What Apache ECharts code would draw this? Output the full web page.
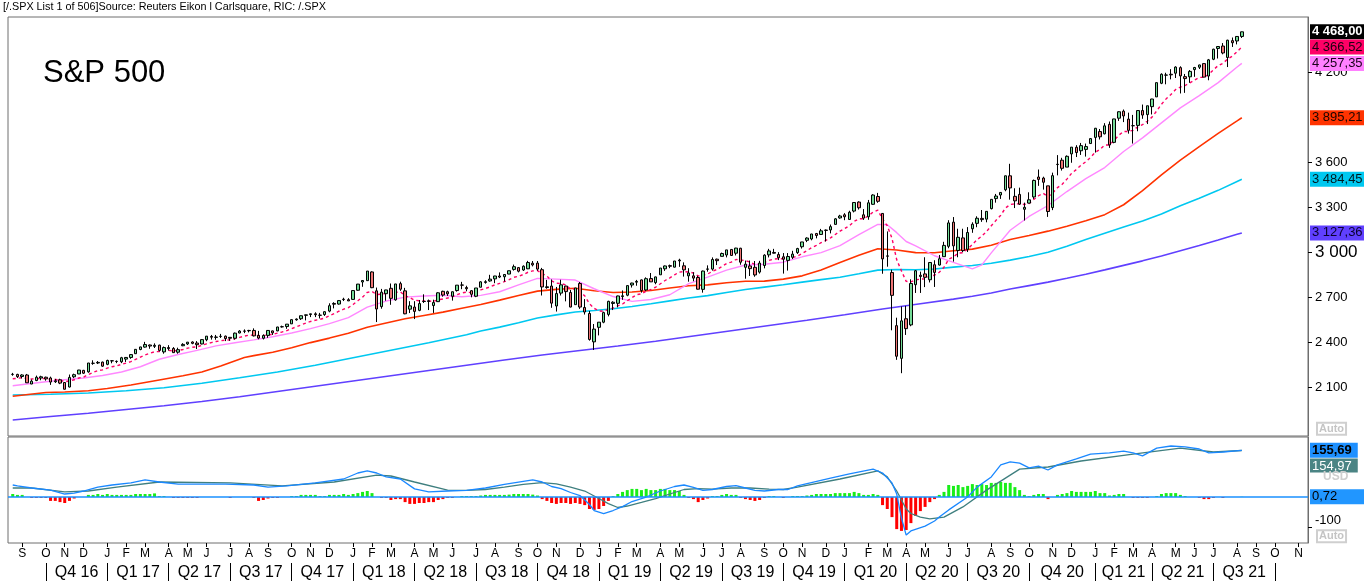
<!DOCTYPE html>
<html><head><meta charset="utf-8">
<script src="https://cdn.jsdelivr.net/npm/echarts@6/dist/echarts.min.js"></script>
<style>html,body{margin:0;padding:0;background:#fff;overflow:hidden}#c{width:1364px;height:581px}</style>
</head><body><div id="c"></div>
<script>
// ---------- DATA (weekly S&P 500, weeks ending 19 Aug 2016 .. 13 Aug 2021) ----------
const firstWeekEnd = '2016-08-19';
const opens = [
2184,2184,2170,2180,2120,2143,2160,2165,2160,2135, 2148,2130,2100,2168,2187,2211,2201,2258,2260,2266,
2251,2274,2270,2268,2286,2297,2322,2350,2366,2380, 2371,2379,2334,2363,2357,2332,2375,2387,2400,2393,
2387,2415,2437,2431,2437,2439,2431,2425,2460,2473, 2475,2477,2444,2425,2444,2474,2474,2501,2503,2521,
2548,2555,2578,2583,2588,2578,2583,2606,2657,2653, 2685,2682,2684,2745,2800,2809,2867,2741,2636,2722,
2758,2681,2789,2741,2619,2633,2611,2670,2675,2643, 2669,2738,2735,2705,2743,2780,2763,2742,2705,2765,
2797,2807,2821,2840,2835,2853,2884,2896,2880,2888, 2925,2926,2882,2763,2773,2640,2726,2773,2730,2649,
2790,2630,2590,2401,2498,2532,2584,2657,2658,2703, 2712,2780,2799,2814,2747,2823,2796,2848,2888,2909,
2899,2941,2908,2841,2841,2830,2751,2885,2886,2952, 2971,2980,3017,2992,3025,2898,2907,2898,2866,2910,
2981,2997,2983,2968,2944,2965,2996,3035,3078,3087, 3123,3117,3144,3147,3184,3227,3248,3217,3273,3333,
3248,3235,3318,3370,3257,2974,2863,2509,2291,2555, 2514,2782,2845,2854,2815,2915,2913,2969,3038,3199,
3010,3094,3018,3155,3191,3224,3219,3289,3356,3380, 3415,3508,3371,3384,3285,3326,3367,3500,3493,3441,
3296,3583,3612,3566,3654,3698,3675,3684,3723,3764, 3803,3788,3851,3731,3892,3939,3886,3842,3844,3943,
3916,3969,4034,4125,4179,4185,4192,4229,4169,4168, 4216,4232,4256,4173,4285,4357,4373,4297,4409,4407,
4437];
const highs = [
2194,2188,2185,2187,2150,2176,2175,2169,2169,2154, 2155,2131,2183,2189,2214,2214,2260,2278,2273,2269,
2282,2279,2277,2301,2300,2319,2352,2368,2401,2383, 2391,2382,2370,2379,2366,2362,2392,2400,2404,2406,
2419,2440,2447,2447,2454,2443,2433,2463,2479,2484, 2481,2491,2474,2451,2480,2476,2501,2509,2520,2552,
2557,2576,2582,2589,2598,2594,2605,2658,2665,2680, 2695,2692,2743,2787,2811,2873,2871,2763,2754,2748,
2790,2787,2802,2761,2672,2672,2680,2718,2683,2682, 2732,2742,2742,2736,2779,2801,2775,2746,2760,2805,
2812,2848,2841,2864,2850,2876,2916,2900,2911,2941, 2940,2940,2894,2814,2817,2767,2815,2775,2747,2760,
2800,2686,2607,2520,2532,2602,2675,2672,2709,2744, 2776,2795,2814,2817,2831,2860,2836,2893,2910,2916,
2940,2955,2931,2892,2865,2841,2876,2911,2964,2956, 2996,3014,3018,3028,3028,2943,2943,2940,2941,2985,
3021,3021,2999,2993,2993,3008,3028,3067,3098,3121, 3127,3154,3150,3183,3226,3248,3259,3275,3330,3338,
3286,3347,3385,3394,3260,3137,2882,2562,2637,2641, 2818,2880,2869,2965,2933,2945,2980,3068,3212,3233,
3155,3155,3166,3198,3238,3280,3272,3352,3387,3400, 3509,3588,3425,3429,3329,3398,3483,3550,3502,3441,
3529,3646,3628,3644,3700,3712,3727,3723,3760,3827, 3820,3859,3870,3888,3938,3950,3929,3914,3944,3983,
3975,4021,4129,4191,4195,4219,4238,4238,4187,4213, 4234,4249,4257,4287,4355,4372,4393,4415,4430,4440,
4469];
const lows = [
2175,2160,2157,2127,2119,2139,2145,2142,2114,2127, 2119,2084,2097,2159,2186,2187,2195,2248,2253,2234,
2245,2258,2259,2259,2267,2288,2320,2345,2362,2355, 2360,2337,2322,2343,2328,2322,2372,2380,2385,2353,
2384,2405,2416,2415,2427,2406,2408,2416,2458,2459, 2464,2437,2418,2417,2428,2447,2472,2496,2488,2520,
2542,2547,2544,2566,2566,2557,2574,2598,2624,2649, 2673,2673,2682,2742,2768,2808,2759,2533,2622,2675,
2648,2675,2741,2585,2593,2553,2605,2660,2613,2594, 2667,2702,2707,2676,2736,2752,2738,2698,2699,2765,
2789,2802,2792,2826,2803,2852,2876,2864,2874,2886, 2904,2875,2710,2755,2628,2603,2710,2671,2631,2649,
2621,2583,2409,2347,2444,2525,2571,2613,2631,2681, 2705,2763,2775,2729,2741,2800,2785,2848,2874,2892,
2897,2901,2836,2802,2805,2750,2729,2869,2876,2913, 2970,2964,2975,2977,2915,2822,2840,2835,2856,2891,
2964,2990,2946,2856,2876,2953,2987,3023,3066,3078, 3091,3114,3070,3124,3184,3222,3212,3215,3264,3283,
3214,3215,3315,3328,2855,2902,2478,2281,2192,2447, 2505,2727,2727,2766,2797,2767,2910,2969,3025,2936,
2965,2999,3000,3128,3165,3201,3198,3284,3329,3354, 3405,3349,3293,3314,3210,3324,3354,3441,3416,3234,
3279,3511,3543,3566,3595,3633,3647,3636,3723,3663, 3750,3784,3694,3725,3874,3866,3789,3723,3805,3888,
3853,3917,4034,4119,4118,4151,4160,4057,4061,4128, 4168,4220,4165,4145,4279,4290,4318,4233,4367,4384,
4427];
const closes = [
2184,2169,2180,2128,2139,2165,2168,2154,2133,2141, 2126,2085,2164,2182,2213,2192,2260,2258,2264,2239,
2277,2275,2271,2295,2297,2316,2351,2367,2383,2373, 2378,2344,2363,2356,2329,2349,2384,2399,2391,2382,
2416,2439,2432,2433,2438,2423,2425,2459,2473,2472, 2477,2441,2426,2443,2477,2461,2500,2502,2519,2549,
2553,2575,2581,2588,2582,2579,2602,2642,2652,2676, 2683,2674,2743,2786,2810,2873,2762,2620,2732,2747,
2691,2787,2752,2588,2641,2604,2656,2670,2670,2663, 2728,2713,2721,2735,2779,2779,2755,2718,2760,2801,
2802,2819,2840,2833,2850,2875,2902,2872,2905,2930, 2914,2886,2767,2768,2659,2723,2781,2736,2633,2760,
2633,2600,2417,2486,2532,2596,2671,2665,2707,2708, 2776,2793,2804,2743,2822,2801,2834,2893,2907,2905,
2940,2946,2881,2860,2826,2752,2873,2887,2950,2942, 2990,3014,2977,3026,2932,2919,2889,2847,2926,2979,
3007,2992,2962,2952,2970,2986,3023,3067,3093,3120, 3110,3141,3146,3169,3221,3240,3235,3265,3330,3295,
3226,3328,3380,3338,2954,2972,2711,2305,2541,2489, 2790,2875,2837,2831,2930,2864,2955,3044,3194,3041,
3098,3009,3130,3185,3225,3216,3271,3351,3373,3397, 3508,3427,3341,3319,3298,3348,3477,3484,3465,3270,
3509,3585,3558,3638,3699,3663,3709,3703,3756,3825, 3768,3841,3714,3887,3935,3907,3811,3842,3943,3913,
3975,4020,4129,4185,4180,4181,4233,4174,4156,4204, 4230,4247,4166,4281,4352,4370,4327,4412,4395,4437,
4468.00];
// dashed short average (one value per week)
const maFast = [
2155,2158,2162,2156,2153,2155,2157,2156,2152,2150, 2146,2135,2140,2148,2160,2166,2183,2197,2209,2214,
2226,2235,2241,2251,2259,2269,2284,2299,2314,2325, 2335,2337,2342,2344,2341,2343,2350,2359,2365,2368,
2377,2388,2396,2403,2409,2412,2414,2422,2431,2439, 2446,2445,2442,2442,2448,2450,2459,2467,2476,2489,
2501,2514,2526,2537,2545,2551,2560,2575,2589,2605, 2619,2629,2650,2675,2699,2731,2737,2716,2719,2724,
2718,2731,2735,2708,2696,2679,2675,2674,2673,2671, 2681,2687,2693,2701,2715,2727,2732,2729,2735,2747,
2757,2768,2781,2791,2802,2815,2831,2838,2850,2865, 2874,2876,2856,2840,2807,2792,2790,2780,2753,2754,
2732,2708,2655,2624,2607,2605,2617,2626,2641,2653, 2675,2696,2716,2721,2739,2750,2765,2788,2810,2827,
2848,2866,2869,2867,2860,2840,2846,2853,2871,2884, 2903,2923,2933,2950,2947,2942,2932,2917,2919,2930,
2944,2953,2955,2954,2957,2962,2973,2990,3009,3029, 3044,3062,3077,3094,3117,3139,3156,3176,3204,3221,
3222,3241,3266,3279,3220,3175,3091,2948,2874,2804, 2801,2815,2819,2821,2841,2845,2865,2898,2952,2968,
2992,2995,3020,3050,3082,3106,3136,3175,3211,3245, 3293,3317,3321,3321,3317,3323,3351,3375,3391,3369,
3394,3429,3452,3486,3525,3550,3579,3602,3630,3665, 3684,3713,3713,3745,3780,3803,3804,3811,3835,3849,
3872,3899,3941,3985,4021,4050,4083,4100,4110,4127, 4146,4164,4164,4185,4215,4243,4258,4286,4306,4335,
4366.52];
// [week index, value]
const ma20 = [[0,2108],[3,2120],[7,2135],[11,2148],[15,2160],[19,2177],[23,2200],[27,2235],[31,2285],[35,2317],[39,2344],[43,2374],[47,2395],[51,2414],[55,2435],[59,2460],[63,2489],[67,2522],[71,2563],[75,2633],[79,2673],[83,2699],[87,2707],[91,2712],[95,2702],[99,2711],[103,2735],[107,2781],[111,2824],[115,2819],[119,2813],[123,2755],[127,2703],[131,2671],[135,2683],[139,2715],[143,2789],[147,2833],[151,2879],[155,2913],[159,2918],[163,2932],[167,2968],[171,2996],[175,3042],[179,3116],[183,3184],[185,3182],[187,3129],[189,3070],[191,3041],[195,2975],[199,2931],[201,2909],[203,2888],[205,2914],[207,2994],[211,3145],[215,3237],[219,3310],[223,3403],[227,3489],[231,3563],[235,3670],[239,3761],[243,3861],[247,3961],[251,4043],[255,4129],[259,4233],[260,4257.35]];
const ma50 = [[0,2038],[7,2063],[11,2067],[16,2075],[20,2090],[25,2113],[31,2147],[36,2175],[40,2200],[44,2240],[49,2297],[51,2309],[55,2332],[59,2362],[63,2396],[67,2426],[71,2458],[75,2498],[79,2527],[83,2555],[87,2577],[91,2599],[95,2625],[99,2650],[103,2679],[107,2710],[111,2739],[115,2751],[119,2758],[123,2742],[127,2730],[131,2733],[135,2743],[139,2760],[143,2775],[147,2781],[151,2795],[155,2805],[159,2806],[163,2819],[167,2841],[171,2880],[175,2930],[179,2978],[183,3022],[187,3013],[191,2996],[195,2995],[199,3008],[203,3019],[207,3045],[211,3083],[215,3110],[219,3139],[223,3172],[227,3209],[231,3249],[235,3315],[239,3409],[243,3514],[247,3612],[251,3702],[255,3791],[259,3874],[260,3895.21]];
const ma100 = [[0,2047],[8,2052],[16,2060],[24,2075],[32,2095],[40,2125],[48,2162],[56,2200],[64,2245],[72,2295],[80,2345],[88,2395],[96,2448],[99,2473],[103,2499],[107,2528],[111,2560],[115,2581],[119,2600],[123,2610],[127,2622],[131,2637],[135,2655],[139,2674],[143,2693],[147,2709],[151,2730],[155,2750],[159,2766],[163,2782],[167,2799],[171,2816],[175,2832],[179,2855],[183,2879],[187,2883],[191,2882],[195,2887],[199,2899],[203,2910],[207,2925],[211,2946],[215,2970],[219,2998],[223,3039],[227,3083],[231,3125],[235,3167],[239,3207],[243,3254],[247,3308],[251,3358],[255,3411],[259,3470],[260,3484.45]];
const ma200 = [[0,1880],[8,1903],[16,1925],[24,1950],[32,1975],[40,2003],[48,2035],[56,2070],[64,2105],[72,2140],[80,2175],[88,2210],[96,2245],[104,2280],[112,2313],[120,2343],[128,2373],[136,2405],[144,2440],[152,2475],[160,2510],[168,2545],[176,2582],[184,2620],[192,2655],[199,2686],[203,2705],[207,2727],[211,2753],[215,2776],[219,2799],[223,2825],[227,2852],[231,2881],[235,2911],[239,2941],[243,2974],[247,3009],[251,3044],[255,3080],[259,3118],[260,3127.36]];
const macdLine = [[0,40],[1,37],[4,30],[8,23],[11,10],[13,13],[15,20],[18,33],[21,40],[25,47],[28,57],[31,50],[35,43],[40,43],[45,43],[51,40],[54,33],[58,37],[64,47],[70,60],[73,80],[75,87],[77,80],[79,67],[82,60],[85,27],[88,17],[92,20],[96,22],[100,30],[104,42],[108,52],[110,57],[112,50],[114,35],[116,28],[118,15],[120,5],[122,-25],[123,-45],[125,-55],[127,-45],[129,-32],[131,-15],[134,0],[137,20],[140,35],[142,40],[144,32],[146,22],[148,25],[151,35],[153,38],[155,30],[157,22],[159,20],[162,25],[164,25],[166,37],[173,63],[177,77],[182,93],[184,80],[186,47],[187,10],[188,-70],[189,-127],[190,-113],[193,-97],[195,-80],[196,-67],[198,-43],[202,0],[204,33],[207,67],[209,107],[211,117],[213,113],[215,97],[217,103],[219,90],[221,107],[225,127],[228,143],[232,147],[235,153],[237,147],[239,137],[242,163],[245,170],[248,167],[251,160],[253,147],[256,150],[260,155.69]];
const macdSignal = [[0,30],[4,30],[11,17],[16,20],[22,33],[31,50],[46,47],[57,37],[68,50],[77,73],[80,70],[85,50],[92,23],[96,22],[100,25],[104,33],[108,42],[112,48],[115,44],[118,33],[121,20],[124,-5],[126,-22],[128,-35],[130,-30],[133,-18],[136,-5],[139,10],[142,25],[145,28],[148,26],[152,30],[156,30],[160,26],[163,25],[166,33],[175,60],[183,87],[185,67],[187,20],[189,-40],[190,-55],[192,-67],[194,-73],[197,-67],[201,-33],[206,23],[210,63],[213,93],[219,100],[226,120],[237,143],[247,163],[254,150],[260,154.97]];
const macdHist = [
10,7,7,0,-3,-3,-3,-3,-13,-13, -17,-20,-13,-5,0,0,7,7,10,7,
10,7,7,7,7,7,10,10,10,10, 12,3,3,0,-3,-3,-3,-3,-3,-3,
0,0,0,0,0,0,-3,0,0,0, 0,-3,-13,-10,-5,-3,-3,0,0,3,
3,7,7,7,7,3,3,7,7,7, 10,7,10,13,17,20,13,0,-3,-3,
-10,-7,-7,-17,-23,-23,-20,-20,-17,-17, -10,-7,-3,-3,0,3,3,3,3,5,
7,7,7,7,7,8,10,10,10,10, 8,5,-7,-13,-20,-23,-20,-20,-23,-20,
-23,-27,-40,-43,-40,-30,-13,3,10,17, 23,27,27,23,27,23,23,27,27,23,
23,20,7,-3,-7,-17,-10,-5,3,3, 7,10,7,7,-3,-7,-10,-13,-10,-3,
3,3,0,-3,0,3,3,3,5,7, 10,10,10,10,13,13,13,13,17,13,
7,7,10,7,-27,-40,-67,-107,-113,-110, -87,-63,-47,-33,-17,-7,7,17,40,37,
40,33,37,43,40,43,40,47,47,50, 47,47,33,23,7,3,7,10,10,-7,
0,7,10,13,20,17,17,17,17,20, 13,13,5,7,10,10,0,-3,-3,-3,
-3,0,3,10,13,13,13,7,3,0, 0,-3,-7,-7,-3,0,-3,0,0,0,
0.72];
const priceTicks = [2100, 2400, 2700, 3000, 3300, 3600, 4200];
const macdTicks = [-100];
const monthLetters = ['J','F','M','A','M','J','J','A','S','O','N','D'];

// ---------- LAYOUT HELPERS ----------
const DAY = 864e5;
const week0 = Date.parse(firstWeekEnd + 'T00:00:00Z');
const X_MIN = -1, X_MAX = 274, LAST_SLOT = 273;
function weekMonth(i) {
  let t = week0 + i * 7 * DAY;
  const d = new Date(t);
  if (d.getUTCMonth() === 0 && d.getUTCDate() === 1) t -= DAY; // New Year holiday
  const e = new Date(t);
  return [e.getUTCFullYear(), e.getUTCMonth()];
}
const monthTicks = [], monthText = {};
for (let i = 1; i <= LAST_SLOT; i++) {
  const m = weekMonth(i)[1], pm = weekMonth(i - 1)[1];
  if (m !== pm) { monthTicks.push(i); monthText[i] = monthLetters[m]; }
}
const quarterTicks = monthTicks.filter(i => weekMonth(i)[1] % 3 === 0);
const quarterMid = [], quarterText = {};
for (let k = 0; k < quarterTicks.length - 1; k++) {
  const a = quarterTicks[k], b = quarterTicks[k + 1], mid = (a + b) / 2;
  const [y, m] = weekMonth(a);
  quarterMid.push(mid);
  quarterText[mid] = 'Q' + (m / 3 + 1) + ' ' + String(y).slice(2);
}
function fmt(v, dec) {
  const p = v.toFixed(dec).split('.');
  const intPart = p[0].replace(/\B(?=(\d{3})+(?!\d))/g, ' ');
  return dec ? intPart + ',' + p[1] : intPart;
}
const last = a => { const v = a[a.length - 1]; return Array.isArray(v) ? v[1] : v; };

const P_MIN = 1773.3, P_MAX = 4566.7;   // price pane range
const M_MIN = -153.3, M_MAX = 200;      // MACD pane range
const FONT = 'Liberation Sans';

function tagAxis(grid, min, max, value, text, bg, color, bold, extra) {
  return {
    type: 'value', gridIndex: grid, position: 'right', min, max, z: 10,
    axisLine: { show: false, onZero: false }, axisTick: { show: false }, splitLine: { show: false },
    axisLabel: Object.assign({
      customValues: [value], formatter: () => text, margin: 2, fontSize: 13, fontFamily: FONT,
      color, fontWeight: bold ? 'bold' : 'normal', backgroundColor: bg, padding: [1, 6, 0, 2], lineHeight: 14
    }, extra || {})
  };
}

const yAxes = [];
yAxes.push({
  type: 'value', gridIndex: 0, position: 'right', min: P_MIN, max: P_MAX, z: 2,
  axisLine: { show: true, onZero: false, lineStyle: { color: '#6e6e6e' } }, splitLine: { show: false },
  axisTick: { show: true, customValues: priceTicks, length: 4, lineStyle: { color: '#000' } },
  axisLabel: { customValues: priceTicks, margin: 7, fontSize: 13, fontFamily: FONT, color: '#000',
    formatter: v => v === 3000 ? '{big|' + fmt(v, 0) + '}' : fmt(v, 0),
    rich: { big: { fontSize: 17, fontFamily: FONT, color: '#000' } } }
});
const priceTags = [
  [last(closes), '#000000', '#ffffff', true],
  [last(maFast), '#ff0066', '#1a0010', false],
  [last(ma20), '#ff80ff', '#1a001a', false],
  [last(ma50), '#ff3300', '#1a0500', false],
  [last(ma100), '#00c8f0', '#001a20', false],
  [last(ma200), '#6040ff', '#0a0030', false]
];
priceTags.forEach(t => yAxes.push(tagAxis(0, P_MIN, P_MAX, t[0], fmt(t[0], 2), t[1], t[2], t[3])));
yAxes.push(tagAxis(0, P_MIN, P_MAX, 1822, 'Auto', 'transparent', '#c4c4c4', true,
  { margin: 9, fontSize: 11, borderColor: '#cfcfcf', borderWidth: 1, padding: [0, 2, 0, 2], lineHeight: 12 }));
const macdAxisIndex = yAxes.length;
yAxes.push({
  type: 'value', gridIndex: 1, position: 'right', min: M_MIN, max: M_MAX, z: 2,
  axisLine: { show: true, onZero: false, lineStyle: { color: '#6e6e6e' } }, splitLine: { show: false },
  axisTick: { show: true, customValues: macdTicks, length: 4, lineStyle: { color: '#000' } },
  axisLabel: { customValues: macdTicks, margin: 7, fontSize: 13, fontFamily: FONT, color: '#000', verticalAlign: 'bottom',
    formatter: v => String(v) }
});
const lastMacd = last(macdLine), lastSig = last(macdSignal), lastHist = last(macdHist);
yAxes.push(tagAxis(1, M_MIN, M_MAX, lastMacd, fmt(lastMacd, 2), '#1e90ff', '#000', true));
yAxes.push(tagAxis(1, M_MIN, M_MAX, lastSig, '', 'transparent', '#fff', false, {
  formatter: () => '{g|}\n{t|' + fmt(lastSig, 2) + '}', verticalAlign: 'top', backgroundColor: 'transparent', padding: 0,
  rich: { g: { height: 8, lineHeight: 8 }, t: { backgroundColor: '#4b8484', color: '#ffffff', padding: [1, 6, 0, 2], fontSize: 13, lineHeight: 14, fontFamily: FONT } }
}));
yAxes.push(tagAxis(1, M_MIN, M_MAX, lastHist, fmt(lastHist, 2), '#2196ff', '#000', false, { padding: [1, 30, 0, 2] }));
yAxes.push(tagAxis(1, M_MIN, M_MAX, 68, 'USD', 'transparent', '#cfcfcf', true, { margin: 13, fontSize: 12 }));
yAxes.push(tagAxis(1, M_MIN, M_MAX, -131, 'Auto', 'transparent', '#c4c4c4', true,
  { margin: 9, fontSize: 11, borderColor: '#cfcfcf', borderWidth: 1, padding: [0, 2, 0, 2], lineHeight: 12 }));

const candleData = closes.map((c, i) => [i, opens[i], c, lows[i], highs[i]]);
const histData = macdHist.map((v, i) => [i, v]);
const fastData = maFast.map((v, i) => [i, v]);

const lineSeries = (data, color, width, type, z) => ({
  type: 'line', xAxisIndex: 0, yAxisIndex: 0, data, symbol: 'none', showSymbol: false, silent: true, z: z || 2,
  lineStyle: { color, width, type: type || 'solid' }
});
const xBase = { type: 'value', min: X_MIN, max: X_MAX };

const option = {
  animation: false,
  textStyle: { fontFamily: FONT },
  title: [
    { text: 'S&P 500', left: 43, top: 58, padding: 0, textStyle: { fontSize: 31, fontWeight: 'normal', color: '#000', fontFamily: FONT } },
    { text: '[/.SPX List 1 of 506]Source: Reuters Eikon l Carlsquare, RIC: /.SPX', left: 3, top: 2, padding: 0,
      textStyle: { fontSize: 10.8, fontWeight: 'normal', color: '#000', fontFamily: FONT } }
  ],
  grid: [
    { left: 8, right: 56, top: 17, height: 419, show: true, borderColor: '#6e6e6e', borderWidth: 1, backgroundColor: '#fff', outerBoundsMode: 'none', containLabel: false },
    { left: 8, right: 56, top: 437, height: 106, show: true, borderColor: '#6e6e6e', borderWidth: 1, backgroundColor: '#fff', outerBoundsMode: 'none', containLabel: false }
  ],
  xAxis: [
    Object.assign({}, xBase, { gridIndex: 0, show: false, axisLine: { onZero: false } }),
    Object.assign({}, xBase, { gridIndex: 1, show: false, position: 'bottom', axisLine: { onZero: false } }),
    Object.assign({}, xBase, { gridIndex: 1, position: 'bottom', offset: 0,
      axisLine: { show: false, onZero: false }, splitLine: { show: false },
      axisTick: { show: true, customValues: monthTicks, length: 4, lineStyle: { color: '#000' } },
      axisLabel: { customValues: monthTicks, formatter: v => monthText[v] || '', margin: 5, fontSize: 12, color: '#000', fontFamily: FONT } }),
    Object.assign({}, xBase, { gridIndex: 1, position: 'bottom', offset: 20,
      axisLine: { show: false, onZero: false }, splitLine: { show: false },
      axisTick: { show: true, customValues: quarterTicks, length: 18, lineStyle: { color: '#000' } },
      axisLabel: { customValues: quarterMid, formatter: v => quarterText[v] || '', margin: 2, fontSize: 16, color: '#000', fontFamily: FONT } })
  ],
  yAxis: yAxes,
  series: [
    lineSeries(ma200, '#6040ff', 1.6),
    lineSeries(ma100, '#00c8f0', 1.6),
    lineSeries(ma50, '#ff3300', 1.6),
    lineSeries(ma20, '#ff88ff', 1.4),
    lineSeries(fastData, '#ff0066', 1.4, [3, 3], 3),
    { type: 'candlestick', xAxisIndex: 0, yAxisIndex: 0, data: candleData, encode: { x: 0, y: [1, 2, 3, 4] },
      barWidth: 3, z: 5, silent: true,
      itemStyle: { color: '#74dc98', color0: '#ee7474', borderColor: '#000', borderColor0: '#000', borderWidth: 1 } },
    { type: 'bar', xAxisIndex: 1, yAxisIndex: macdAxisIndex, data: histData, barWidth: 3, silent: true,
      itemStyle: { color: p => (p.value[1] >= 0 ? '#19ee19' : '#ff0000') },
      markLine: { silent: true, symbol: ['none', 'none'], label: { show: false }, animation: false,
        lineStyle: { color: '#1a90ff', width: 1.5, type: 'solid' }, data: [{ yAxis: 0 }] } },
    { type: 'line', xAxisIndex: 1, yAxisIndex: macdAxisIndex, data: macdSignal, symbol: 'none', silent: true,
      lineStyle: { color: '#3f7f7f', width: 1.3 } },
    { type: 'line', xAxisIndex: 1, yAxisIndex: macdAxisIndex, data: macdLine, symbol: 'none', silent: true,
      lineStyle: { color: '#1a88ff', width: 1.3 } }
  ]
};
const chart = echarts.init(document.getElementById('c'), null, { renderer: 'canvas' });
chart.setOption(option);
</script>
</body></html>
